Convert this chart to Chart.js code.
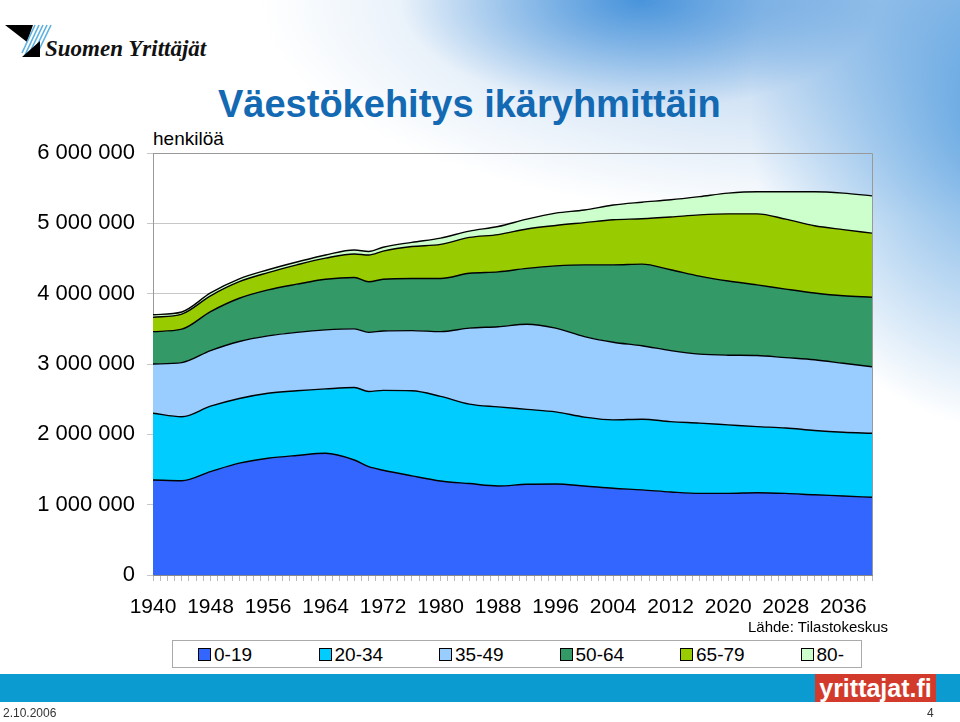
<!DOCTYPE html>
<html>
<head>
<meta charset="utf-8">
<script src="https://cdn.jsdelivr.net/npm/chart.js@4"></script>
<style>
    html, body { margin: 0; padding: 0; }
    body {
        width: 960px; height: 722px; position: relative; overflow: hidden;
        font-family: "Liberation Sans", Arial, sans-serif;
        background:
            radial-gradient(ellipse 240px 110px at 640px 0px, rgba(50,135,215,0.85), rgba(50,135,215,0) 100%),
            radial-gradient(ellipse 260px 320px at 1010px 110px, rgba(80,155,222,0.95), rgba(80,155,222,0) 100%),
            radial-gradient(ellipse 560px 220px at 820px 0px, rgba(150,190,232,0.8), rgba(150,190,232,0) 100%),
            #ffffff;
    }
    #chart { position: absolute; left: 0; top: 0; }
    .abs { position: absolute; white-space: nowrap; }
    #title { left: 218px; top: 83px; font-size: 38px; font-weight: bold; color: #1469b3; }
    #unit { left: 153px; top: 128px; font-size: 19px; color: #000; }
    #source { left: 748px; top: 618px; font-size: 15px; color: #000; }
    #legend { left: 172px; top: 640px; width: 690px; height: 28px; border: 1px solid #aaa; background: #fff; box-sizing: border-box; }
    .item { position: absolute; top: 3px; font-size: 19px; color: #000; }
    .sw { display: inline-block; width: 11px; height: 11px; border: 1px solid #000; margin-right: 3px; vertical-align: 0px; }
    #bar { left: 0; top: 674px; width: 960px; height: 28px; background: #0b9bd0; }
    #brand { left: 815px; top: 674px; width: 121px; height: 28px; background: #d23b2b; color: #fff;
             font-family: "Liberation Sans Narrow", "Arial Narrow", sans-serif; font-weight: bold; font-size: 25px;
             text-align: center; line-height: 28px; }
    #date { left: 3px; top: 706px; font-size: 12px; color: #333; }
    #page { left: 927px; top: 706px; font-size: 12px; color: #333; }
    #logo { left: 0; top: 0; }
    #logotext { left: 45px; top: 36px; font-family: "Liberation Serif", "Times New Roman", serif; font-style: italic; font-weight: bold; font-size: 23px; color: #111; }
</style>
</head>
<body>
<svg id="logo" class="abs" width="60" height="70">
    <polygon points="5,25 33,25 27,42" fill="#000"/>
    <g stroke="#5ab0e0" stroke-width="1.6">
        <line x1="35" y1="25" x2="22" y2="53"/>
        <line x1="39" y1="25" x2="25" y2="55"/>
        <line x1="43" y1="25" x2="28" y2="56"/>
        <line x1="47" y1="25" x2="32" y2="56"/>
        <line x1="51" y1="25" x2="36" y2="56"/>
    </g>
    <polygon points="40,41 40,57 22,57" fill="#000"/>
</svg>
<div id="logotext" class="abs">Suomen Yrittäjät</div>
<div id="title" class="abs">Väestökehitys ikäryhmittäin</div>
<div id="unit" class="abs">henkilöä</div>
<canvas id="chart" width="960" height="722"></canvas>
<div id="source" class="abs">Lähde: Tilastokeskus</div>
<div id="legend" class="abs"></div>
<div id="bar" class="abs"></div>
<div id="brand" class="abs">yrittajat.fi</div>
<div id="date" class="abs">2.10.2006</div>
<div id="page" class="abs">4</div>

<script>
// years (thousands of persons per age group)
const years = [1940, 1944, 1948, 1952, 1956, 1960, 1964, 1968, 1970, 1972, 1976, 1980, 1984, 1988,
               1992, 1996, 2000, 2004, 2008, 2012, 2016, 2020, 2024, 2028, 2032, 2036, 2040];

const age0_19  = [1351, 1340, 1470, 1590, 1660, 1700, 1730, 1635, 1540, 1490, 1410, 1337, 1300, 1266,
                  1290, 1294, 1266, 1233, 1210, 1180, 1160, 1160, 1170, 1160, 1140, 1124, 1105];
const age20_34 = [ 949,  910,  930,  920,  925,  920,  916, 1030, 1070, 1135, 1210, 1203, 1130, 1124,
                  1065, 1026,  979,  972, 1005, 1000, 1000,  975,  940,  930,  915,  906,  910];
const age35_49 = [ 700,  770,  790,  810,  815,  830,  839,  835,  840,  845,  855,  920, 1080, 1140,
                  1210, 1190, 1145, 1105, 1045, 1010,  980,  990, 1010, 1000, 1005,  980,  945];
const age50_64 = [ 460,  475,  555,  615,  654,  685,  720,  730,  720,  735,  740,  755,  780,  780,
                   795,  885, 1020, 1100, 1160, 1150, 1110, 1055, 1005,  975,  950,  960,  990];
const age65_79 = [ 205,  215,  225,  235,  246,  275,  300,  335,  380,  400,  455,  485,  510,  530,
                   560,  575,  600,  640,  645,  750,  870,  955, 1010,  995,  955,  940,  910];
const age80    = [  35,   30,   40,   40,   40,   40,   45,   55,   50,   55,   60,   90,   90,  115,
                   140,  175,  180,  210,  235,  245,  260,  295,  315,  390,  485,  520,  530];

const groups = ["0-19", "20-34", "35-49", "50-64", "65-79", "80-"];
const colors = ["#3366ff", "#00ccff", "#99ccff", "#339966", "#99cc00", "#ccffcc"];
const xLabels = ["1940", "1948", "1956", "1964", "1972", "1980", "1988", "1996", "2004", "2012", "2020", "2028", "2036"];
const yTicks = [0, 1000000, 2000000, 3000000, 4000000, 5000000, 6000000];

const series = [age0_19, age20_34, age35_49, age50_64, age65_79, age80];

const datasets = series.map((s, i) => ({
    label: groups[i],
    data: years.map((y, j) => ({ x: y, y: s[j] * 1000 })),
    backgroundColor: colors[i],
    borderColor: "#000",
    borderWidth: 1.4,
    pointRadius: 0,
    cubicInterpolationMode: "monotone",
    fill: i === 0 ? "origin" : "-1"
}));

// html legend
const legend = document.getElementById("legend");
groups.forEach((g, i) => {
    const el = document.createElement("div");
    el.className = "item";
    el.style.left = (25 + i * 120.5) + "px";
    el.innerHTML = '<span class="sw" style="background:' + colors[i] + '"></span>' + g;
    legend.appendChild(el);
});

const plotBorder = {
    id: "plotBorder",
    afterDatasetsDraw(chart) {
        const a = chart.chartArea;
        const ctx = chart.ctx;
        ctx.save();
        ctx.strokeStyle = "#999";
        ctx.lineWidth = 1;
        ctx.beginPath();
        ctx.moveTo(a.left, a.top + 0.5);
        ctx.lineTo(a.right + 0.5, a.top + 0.5);
        ctx.lineTo(a.right + 0.5, a.bottom);
        ctx.stroke();
        ctx.restore();
    }
};

new Chart(document.getElementById("chart").getContext("2d"), {
    type: "line",
    data: { datasets },
    plugins: [plotBorder],
    options: {
        responsive: false,
        animation: false,
        devicePixelRatio: 1,
        layout: { padding: { left: 0, top: 153, right: 88, bottom: 0 } },
        plugins: {
            legend: { display: false },
            tooltip: { enabled: false }
        },
        scales: {
            x: {
                type: "linear",
                min: 1940,
                max: 2040,
                afterFit: s => { s.height = 147; },
                grid: { drawOnChartArea: false, tickLength: 6, color: "#bbb" },
                border: { color: "#888" },
                ticks: {
                    stepSize: 1,
                    autoSkip: false,
                    maxRotation: 0,
                    minRotation: 0,
                    padding: 14,
                    color: "#000",
                    font: { family: "'Liberation Sans', Arial, sans-serif", size: 21 },
                    callback: v => xLabels.includes(String(v)) ? String(v) : ""
                }
            },
            y: {
                stacked: true,
                min: 0,
                max: 6000000,
                afterFit: s => { s.width = 153; },
                afterBuildTicks: s => { s.ticks = yTicks.map(v => ({ value: v })); },
                grid: { color: "#c8c8c8", tickLength: 6 },
                border: { color: "#999" },
                ticks: {
                    padding: 12,
                    color: "#000",
                    font: { family: "'Liberation Sans', Arial, sans-serif", size: 22 },
                    callback: v => v === 0 ? "0" : String(v).replace(/\B(?=(\d{3})+(?!\d))/g, " ")
                }
            }
        }
    }
});
</script>
</body>
</html>
